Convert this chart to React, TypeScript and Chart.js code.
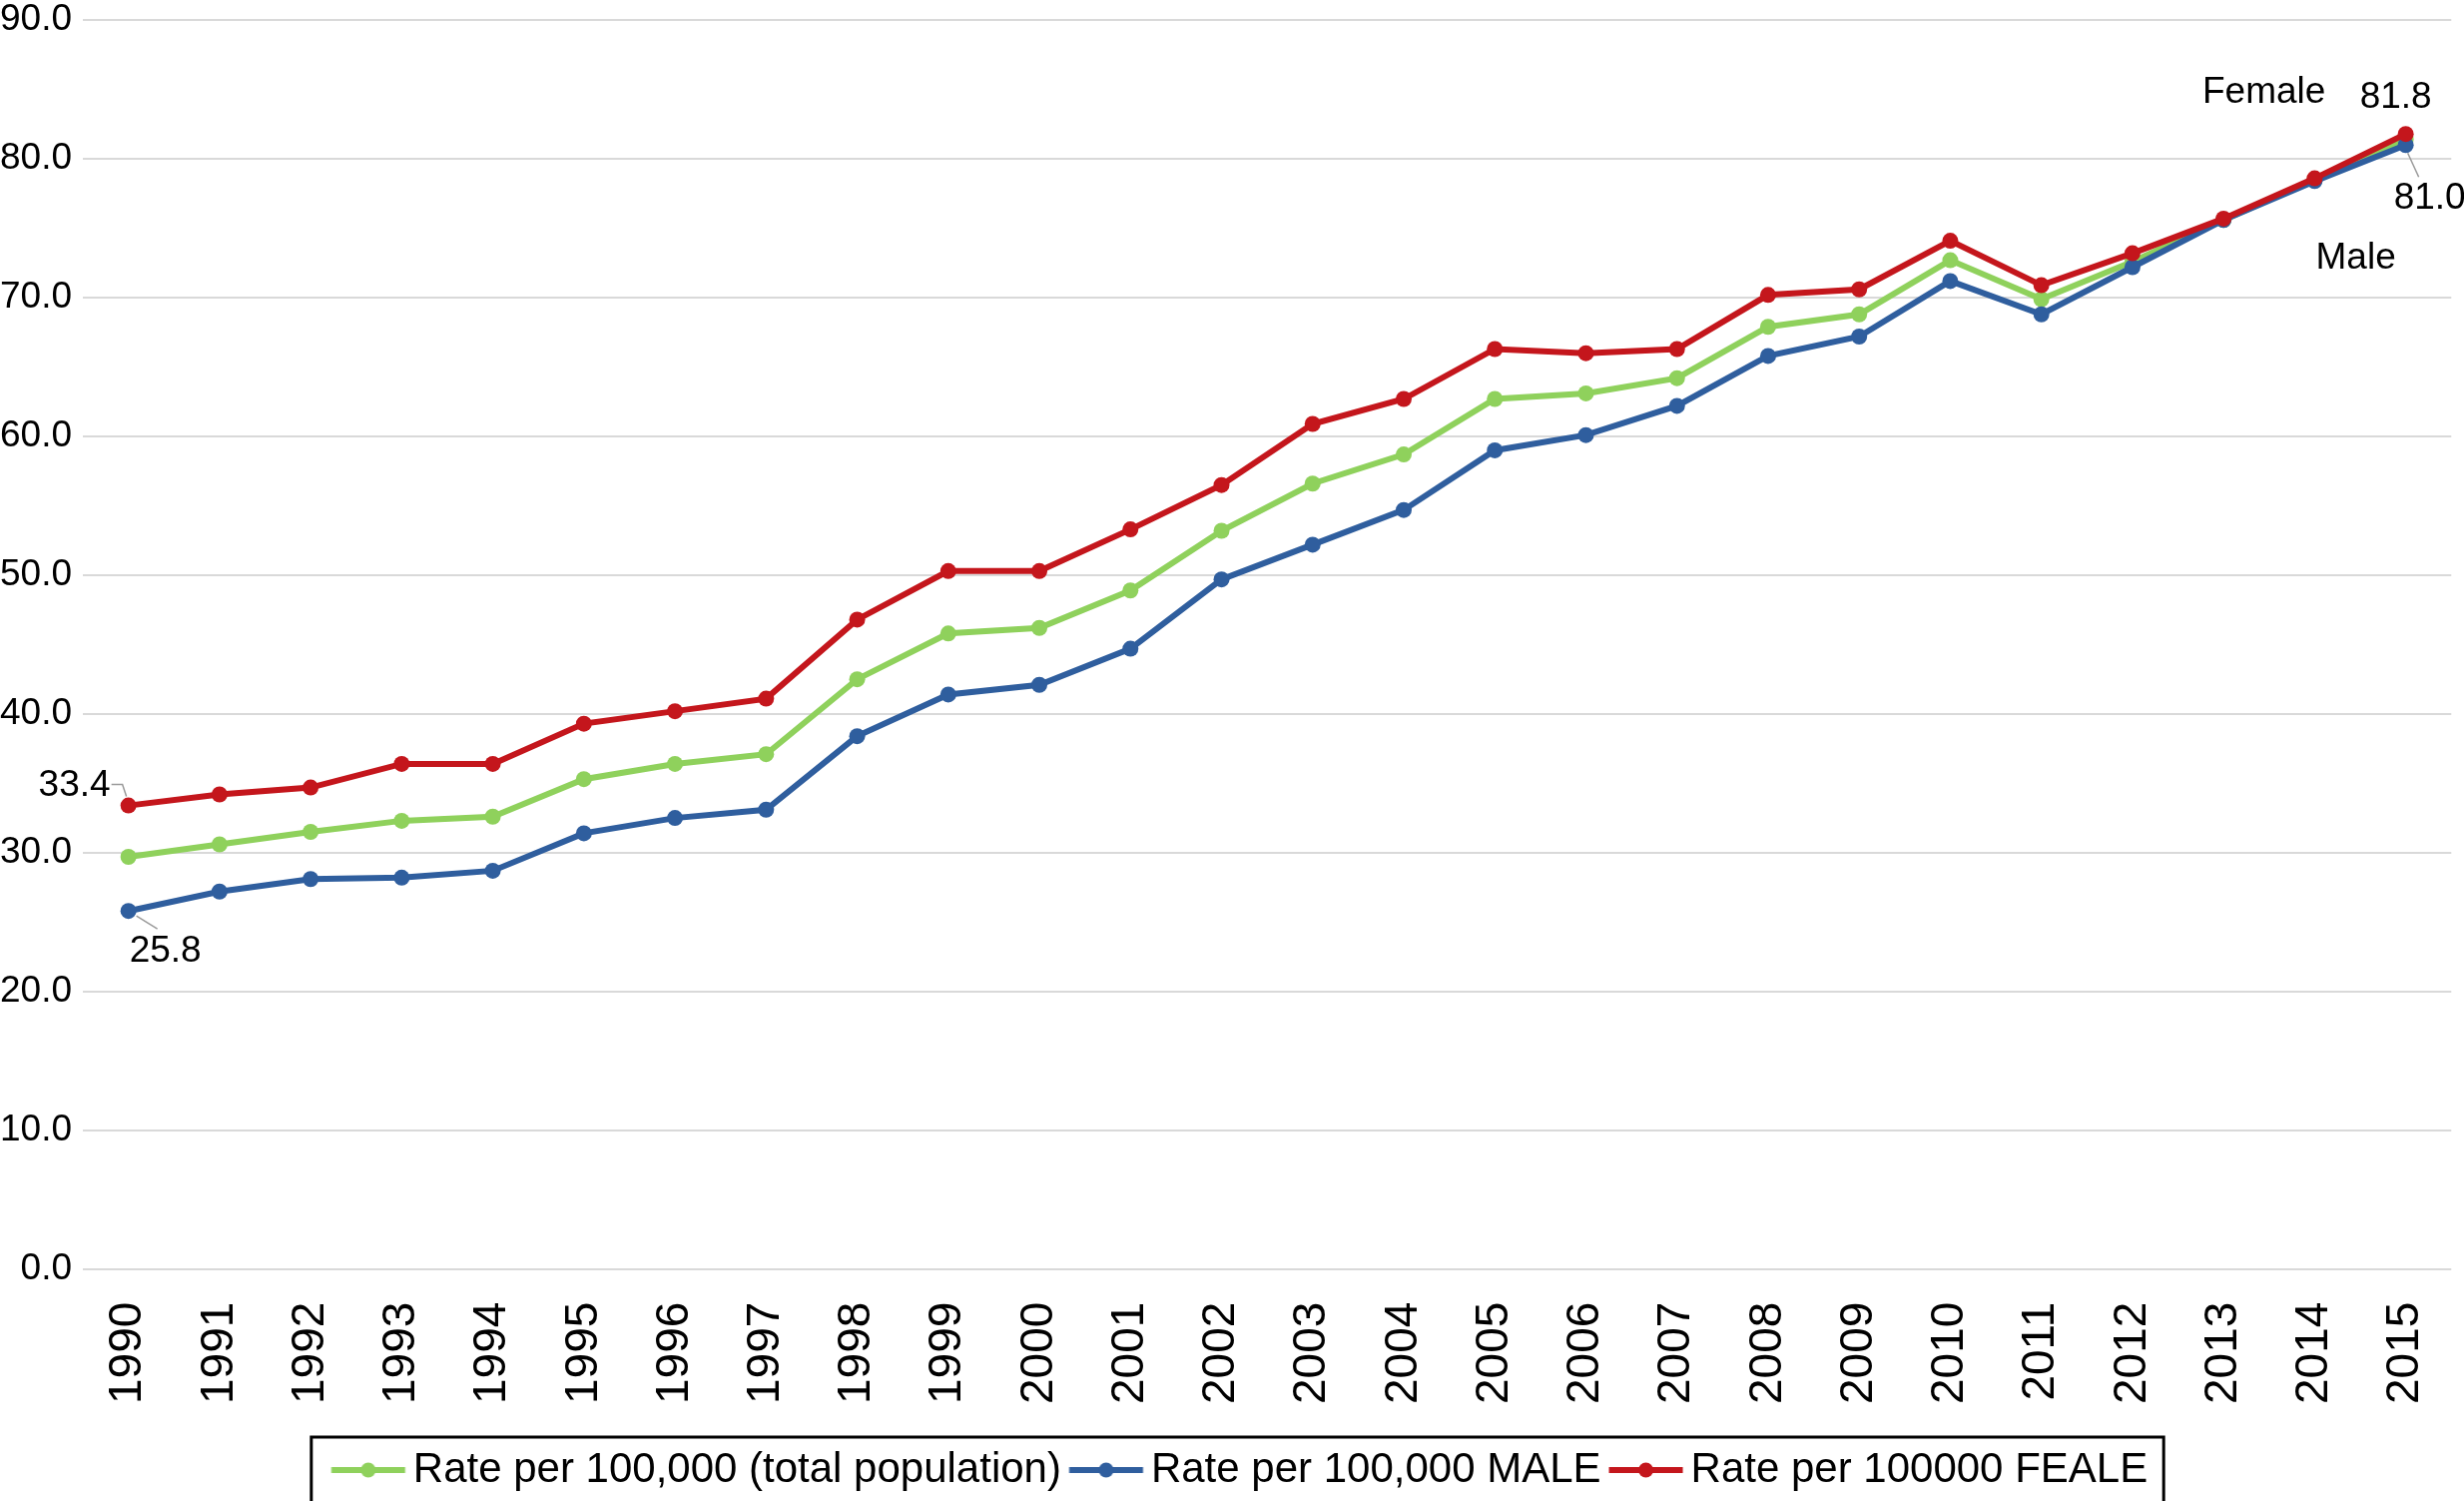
import React, { useEffect, useRef } from "react";
import { Chart, registerables } from "chart.js";
Chart.register(...registerables);

const years = ["1990", "1991", "1992", "1993", "1994", "1995", "1996", "1997", "1998", "1999", "2000", "2001", "2002", "2003", "2004", "2005", "2006", "2007", "2008", "2009", "2010", "2011", "2012", "2013", "2014", "2015"];
const totalRate = [29.7, 30.6, 31.5, 32.3, 32.6, 35.3, 36.4, 37.1, 42.5, 45.8, 46.2, 48.9, 53.2, 56.6, 58.7, 62.7, 63.1, 64.2, 67.9, 68.8, 72.7, 69.9, 72.6, 75.6, 78.5, 81.4];
const maleRate = [25.8, 27.2, 28.1, 28.2, 28.7, 31.4, 32.5, 33.1, 38.4, 41.4, 42.1, 44.7, 49.7, 52.2, 54.7, 59.0, 60.1, 62.2, 65.8, 67.2, 71.2, 68.8, 72.2, 75.6, 78.4, 81.0];
const femaleRate = [33.4, 34.2, 34.7, 36.4, 36.4, 39.3, 40.2, 41.1, 46.8, 50.3, 50.3, 53.3, 56.5, 60.9, 62.7, 66.3, 66.0, 66.3, 70.2, 70.6, 74.1, 70.9, 73.2, 75.7, 78.6, 81.8];
const seriesLabels = ["Rate per 100,000 (total population)", "Rate per 100,000 MALE", "Rate per 100000 FEALE"];
const seriesColors = ["#8fd15c", "#2f5e9e", "#c4161c"];
const yMin = 0;
const yMax = 90;
const yStep = 10;
const annotationTexts = { femaleStart: "33.4", maleStart: "25.8", femaleEnd: "81.8", maleEnd: "81.0", femaleTag: "Female", maleTag: "Male" };

const FONT = "'Liberation Sans', Arial, Helvetica, sans-serif";

function makeLegendMarker(color: string) {
  const c = document.createElement("canvas");
  c.width = 100;
  c.height = 20;
  const ctx = c.getContext("2d")!;
  ctx.strokeStyle = color;
  ctx.lineWidth = 6;
  ctx.beginPath();
  ctx.moveTo(17.5, 10);
  ctx.lineTo(91.5, 10);
  ctx.stroke();
  ctx.fillStyle = color;
  ctx.beginPath();
  ctx.arc(54.5, 10, 7.5, 0, Math.PI * 2);
  ctx.fill();
  return c;
}

const annotationPlugin = {
  id: "annotationLabels",
  afterDatasetsDraw(chart: any) {
    const ctx = chart.ctx;
    const x = chart.scales.x;
    const y = chart.scales.y;
    const last = years.length - 1;
    const fx0 = x.getPixelForValue(0);
    const fy0 = y.getPixelForValue(femaleRate[0]);
    const my0 = y.getPixelForValue(maleRate[0]);
    const fxN = x.getPixelForValue(last);
    const fyN = y.getPixelForValue(femaleRate[last]);
    const myN = y.getPixelForValue(maleRate[last]);
    ctx.save();
    ctx.strokeStyle = "#9a9a9a";
    ctx.lineWidth = 1.5;
    ctx.beginPath();
    ctx.moveTo(fx0 - 17, fy0 - 21);
    ctx.lineTo(fx0 - 6, fy0 - 21);
    ctx.lineTo(fx0 - 2, fy0 - 9);
    ctx.stroke();
    ctx.beginPath();
    ctx.moveTo(fx0 + 8, my0 + 5);
    ctx.lineTo(fx0 + 29, my0 + 18);
    ctx.stroke();
    ctx.beginPath();
    ctx.moveTo(fxN + 2, myN + 8);
    ctx.lineTo(fxN + 13, myN + 32);
    ctx.stroke();
    ctx.fillStyle = "#000";
    ctx.font = `37px ${FONT}`;
    ctx.textBaseline = "middle";
    ctx.textAlign = "right";
    ctx.fillText(annotationTexts.femaleStart, fx0 - 18, fy0 - 20);
    ctx.textAlign = "left";
    ctx.fillText(annotationTexts.maleStart, fx0 + 1, my0 + 41);
    ctx.textAlign = "center";
    ctx.fillText(annotationTexts.femaleEnd, fxN - 10, fyN - 36);
    ctx.fillText(annotationTexts.femaleTag, fxN - 142, fyN - 41);
    ctx.fillText(annotationTexts.maleEnd, fxN + 24, myN + 54);
    ctx.fillText(annotationTexts.maleTag, fxN - 50, myN + 114);
    ctx.restore();
  },
};

const legendBoxPlugin = {
  id: "legendBox",
  afterDraw(chart: any) {
    const lg = chart.legend;
    if (!lg || !lg.legendHitBoxes || !lg.legendHitBoxes.length) return;
    const hbs = lg.legendHitBoxes;
    let left = Infinity, right = -Infinity, top = Infinity, bottom = -Infinity;
    for (const hb of hbs) {
      left = Math.min(left, hb.left);
      right = Math.max(right, hb.left + hb.width);
      top = Math.min(top, hb.top);
      bottom = Math.max(bottom, hb.top + hb.height);
    }
    const ctx = chart.ctx;
    ctx.save();
    ctx.strokeStyle = "#000";
    ctx.lineWidth = 3;
    const l = left - 24;
    const r = right + 16;
    ctx.strokeRect(l, top - 12, r - l, bottom - top + 24);
    ctx.restore();
  },
};

export default function App() {
  const ref = useRef<HTMLCanvasElement | null>(null);
  useEffect(() => {
    if (!ref.current) return;
    const series = [totalRate, maleRate, femaleRate];
    const orders = [2, 1, 0];
    const chart = new Chart(ref.current, {
      type: "line",
      data: {
        labels: years,
        datasets: series.map((d, i) => ({
          label: seriesLabels[i],
          data: d,
          borderColor: seriesColors[i],
          backgroundColor: seriesColors[i],
          borderWidth: 6,
          pointRadius: 8,
          pointBorderWidth: 0,
          pointBackgroundColor: seriesColors[i],
          pointStyle: "circle",
          tension: 0,
          order: orders[i],
        })) as any,
      },
      options: {
        animation: false,
        responsive: true,
        maintainAspectRatio: false,
        devicePixelRatio: 1,
        layout: { padding: { left: 0, right: 0, top: 0, bottom: 0 } },
        plugins: {
          tooltip: { enabled: false },
          legend: {
            position: "bottom",
            labels: {
              usePointStyle: true,
              pointStyleWidth: 57,
              padding: 12,
              color: "#000",
              font: { size: 42, family: FONT },
              sort: (a: any, b: any) => a.datasetIndex - b.datasetIndex,
              generateLabels: (ch: any) =>
                ch.data.datasets.map((ds: any, i: number) => ({
                  text: ds.label,
                  fillStyle: ds.borderColor,
                  strokeStyle: ds.borderColor,
                  lineWidth: 0,
                  pointStyle: makeLegendMarker(ds.borderColor),
                  datasetIndex: i,
                  hidden: false,
                  fontColor: "#000",
                })),
            },
          },
        },
        scales: {
          x: {
            offset: true,
            grid: { display: false, drawTicks: false },
            border: { display: false },
            ticks: {
              color: "#000",
              font: { size: 46, family: FONT },
              minRotation: 90,
              maxRotation: 90,
              padding: 33,
              autoSkip: false,
            },
          },
          y: {
            min: yMin,
            max: yMax,
            grid: { color: "#d9d9d9", lineWidth: 2, drawTicks: false },
            border: { display: false },
            ticks: {
              stepSize: yStep,
              color: "#000",
              font: { size: 37, family: FONT },
              padding: 11,
              callback: (v: any) => Number(v).toFixed(1),
            },
          },
        },
      },
      plugins: [annotationPlugin, legendBoxPlugin],
    });
    return () => chart.destroy();
  }, []);
  return (
    <div style={{ position: "fixed", left: -11, top: -13, width: 2509, height: 1516, background: "#fff" }}>
      <canvas ref={ref} />
    </div>
  );
}
